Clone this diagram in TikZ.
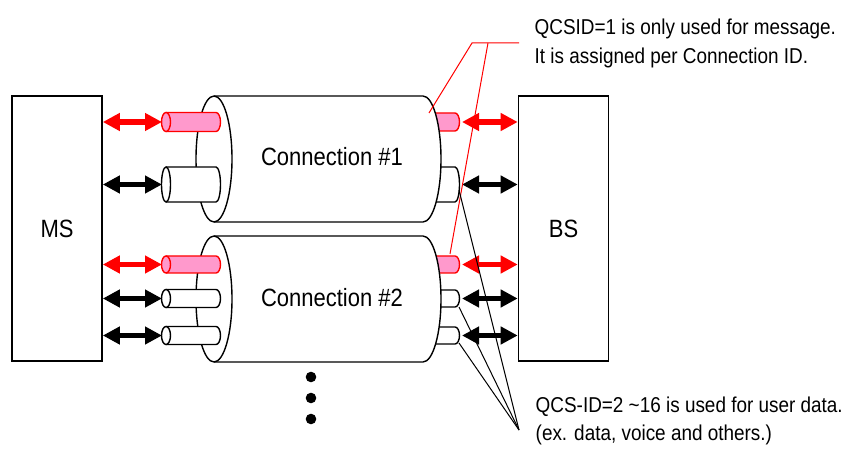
\documentclass[tikz,border=0pt]{standalone}
\usepackage{fontspec}
\setmainfont{Liberation Sans}[FakeStretch=0.88]
\usetikzlibrary{arrows.meta}
\definecolor{msgpink}{RGB}{255,153,204}

\begin{document}
\begin{tikzpicture}[x=0.5pt, y=-0.5pt, line width=0.7pt,
  station/.style={draw, line width=0.8pt, minimum width=45pt, minimum height=132.5pt, inner sep=0pt, font=\fontsize{12.5}{15}\selectfont},
  link/.style={{Triangle[length=8.5pt,width=8.5pt]}-{Triangle[length=8.5pt,width=8.5pt]}, line width=2.8pt},
  note/.style={font=\fontsize{10.75}{13}\selectfont, anchor=base west, inner sep=0pt}]
\useasboundingbox (0,0) rectangle (852,454);
% base stations
\node[station] (ms) at (57,228.5) {MS};
\node[station] (bs) at (563.5,228.5) {BS};
% pipes leaving the right end of each connection
\foreach \yc/\ry/\col/\fil in {122/9/red/msgpink, 184.5/17.5/black/white, 264.5/8.5/red/msgpink, 298.5/8.5/black/white, 335.5/8.5/black/white}
  \draw[draw=\col, fill=\fil] (430,{\yc-\ry}) -- (455,{\yc-\ry}) arc[start angle=-90, end angle=90, x radius=4.5, y radius=\ry] -- (430,{\yc+\ry});
% the two connections
\foreach \cy in {159,299} {
  \draw[fill=white] (214,\cy-63) -- (423,\cy-63) arc[start angle=-90, end angle=90, x radius=18, y radius=63] -- (214,\cy+63);
  \draw[fill=white] (214,\cy) ellipse[x radius=18, y radius=63];
}
\node[font=\fontsize{12.5}{15}\selectfont, anchor=base] (conn1) at (332,166) {Connection \#1};
\node[font=\fontsize{12.5}{15}\selectfont, anchor=base] (conn2) at (332,307) {Connection \#2};
% pipes entering the left end
\foreach \yc/\ry/\col/\fil in {122/9.5/red/msgpink, 184.5/17.5/black/white, 264.5/8.5/red/msgpink, 298.5/9/black/white, 335.5/9/black/white} {
  \draw[draw=\col, fill=\fil] (166,{\yc-\ry}) -- (216,{\yc-\ry}) arc[start angle=-90, end angle=90, x radius=4.5, y radius=\ry] -- (166,{\yc+\ry});
  \draw[draw=\col, fill=\fil] (166,\yc) ellipse[x radius=4.5, y radius=\ry];
}
% links between stations and pipes
\foreach \yc/\col [count=\i] in {122/red, 184.5/black, 264.5/red, 298.5/black, 335.5/black} {
  \coordinate (in\i) at (162,\yc);
  \coordinate (out\i) at (462,\yc);
  \draw[link, \col] (ms.east |- in\i) -- (in\i);
  \draw[link, \col] (out\i) -- (bs.west |- out\i);
}
% more connections
\foreach \dy in {377,398,419}
  \fill (311,\dy) circle[radius=5.3];
% notes
\node[note] (msgnote) at (534,35) {QCSID=1 is only used for message.};
\node[note] (msgnote2) at (534,64) {It is assigned per Connection ID.};
\node[note] (datanote) at (535,413) {QCS-ID=2 \textasciitilde16 is used for user data.};
\node[note] (datanote2) at (535,440) {(ex. data, voice and others.)};
\coordinate (msgtip) at (519,43);
\coordinate (msgknee) at (472,43);
\draw[red, line width=0.5pt] (msgtip) -- (msgknee) -- (429,113);
\draw[red, line width=0.5pt] (488,43) -- (450,254);
\coordinate (datatip) at (519,430);
\draw[line width=0.5pt] (datatip) -- (459,190);
\draw[line width=0.5pt] (datatip) -- (459,307);
\draw[line width=0.5pt] (datatip) -- (459,343);
\end{tikzpicture}
\end{document}
